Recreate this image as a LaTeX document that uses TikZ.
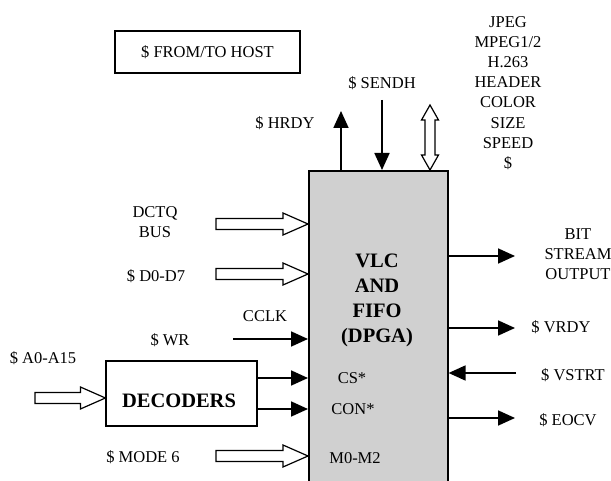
\documentclass[tikz,border=0pt]{standalone}
\usepackage{fontspec}
\setmainfont{Liberation Serif}
\usepackage{tikz}
\usetikzlibrary{arrows.meta, positioning, calc}
\definecolor{dpgaGray}{HTML}{D0D0D0}

\begin{document}
\begin{tikzpicture}[
    x=1pt, y=-1pt,
    txt/.style={inner sep=0pt, align=center, font=\fontsize{16.5}{20.2}\selectfont},
    bold/.style={inner sep=0pt, align=center, font=\bfseries\fontsize{20.5}{25}\selectfont},
    box/.style={draw, line width=1.2pt, inner sep=0pt},
    sig/.style={line width=1.8pt, -{Triangle[length=17pt, width=15pt]}},
    fat/.style={draw, fill=white, line width=1.2pt, line join=miter, to path={let \p1=(\tikztostart), \p2=(\tikztotarget) in
        (\x1,{\y1+5.5pt}) -- ({\x2-25pt},{\y1+5.5pt}) -- ({\x2-25pt},{\y1+11pt}) -- (\x2,\y1)
        -- ({\x2-25pt},{\y1-11pt}) -- ({\x2-25pt},{\y1-5.5pt}) -- (\x1,{\y1-5.5pt}) -- cycle}},
    fatud/.style={draw, fill=white, line width=1.2pt, line join=miter, to path={let \p1=(\tikztostart), \p2=(\tikztotarget) in
        (\x1,\y1) -- ({\x1+8.5pt},{\y1-15pt}) -- ({\x1+5pt},{\y1-15pt}) -- ({\x1+5pt},{\y2+15pt}) -- ({\x1+8.5pt},{\y2+15pt})
        -- (\x1,\y2) -- ({\x1-8.5pt},{\y2+15pt}) -- ({\x1-5pt},{\y2+15pt}) -- ({\x1-5pt},{\y1-15pt}) -- ({\x1-8.5pt},{\y1-15pt}) -- cycle}},
]
    \useasboundingbox (0,0) rectangle (611,481);

    \node[box, line width=1.6pt, fill=dpgaGray, minimum width=139, minimum height=320, anchor=north west] (vlc) at (308,170) {};
    \node[bold] (vlctxt) at (377,300) {VLC\\AND\\FIFO\\(DPGA)};
    \node[box, minimum width=151, minimum height=65] (dec) at (181.5,393.5) {};
    \node[bold] (dectxt) at (179,401) {DECODERS};
    \node[box, txt, minimum width=185, minimum height=42] (host) at (207.5,52) {\$ FROM/TO HOST};

    \node[txt] (jpeg) at (508,93) {JPEG\\MPEG1/2\\H.263\\HEADER\\COLOR\\SIZE\\SPEED\\\$};
    \node[txt] (sendh) at (382,83) {\$ SENDH};
    \node[txt] (hrdy) at (285,123) {\$ HRDY};
    \node[txt] (dctq) at (155,222.5) {DCTQ\\BUS};
    \node[txt] (d07) at (156,276) {\$ D0-D7};
    \node[txt] (cclk) at (265,316) {CCLK};
    \node[txt] (wr) at (170,340) {\$ WR};
    \node[txt] (a015) at (43,358) {\$ A0-A15};
    \node[txt] (mode) at (143,457) {\$ MODE 6};
    \node[txt] (cs) at (352,378) {CS*};
    \node[txt] (con) at (353,409) {CON*};
    \node[txt] (m02) at (355,458) {M0-M2};
    \node[txt] (bso) at (578,254) {BIT\\STREAM\\OUTPUT};
    \node[txt] (vrdy) at (561,327) {\$ VRDY};
    \node[txt] (vstrt) at (573,375) {\$ VSTRT};
    \node[txt] (eocv) at (568,420) {\$ EOCV};

    \coordinate (hrdyEnd) at (341,111);
    \coordinate (sendhStart) at (382,100);
    \coordinate (busStart) at (430,105);
    \coordinate (dctqStart) at (216,224);
    \coordinate (d07Start) at (216,274);
    \coordinate (wrStart) at (233,339);
    \coordinate (a015Start) at (35,398);
    \coordinate (modeStart) at (216,456);
    \coordinate (bsoEnd) at (515,256);
    \coordinate (vrdyEnd) at (515,328);
    \coordinate (vstrtStart) at (516,373);
    \coordinate (eocvEnd) at (515,418);

    \draw[sig] (vlc.north -| hrdyEnd) -- (hrdyEnd);
    \draw[sig] (sendhStart) -- (vlc.north -| sendhStart);
    \draw[fatud] (busStart) to (vlc.north -| busStart);

    \draw[fat] (dctqStart) to (vlc.west |- dctqStart);
    \draw[fat] (d07Start) to (vlc.west |- d07Start);
    \draw[sig] (wrStart) -- (vlc.west |- wrStart);
    \draw[fat] (a015Start) to (dec.west |- a015Start);
    \draw[sig] (dec.east |- cs) -- (vlc.west |- cs);
    \draw[sig] (dec.east |- con) -- (vlc.west |- con);
    \draw[fat] (modeStart) to (vlc.west |- modeStart);

    \draw[sig] (vlc.east |- bsoEnd) -- (bsoEnd);
    \draw[sig] (vlc.east |- vrdyEnd) -- (vrdyEnd);
    \draw[sig] (vstrtStart) -- (vlc.east |- vstrtStart);
    \draw[sig] (vlc.east |- eocvEnd) -- (eocvEnd);
\end{tikzpicture}
\end{document}
